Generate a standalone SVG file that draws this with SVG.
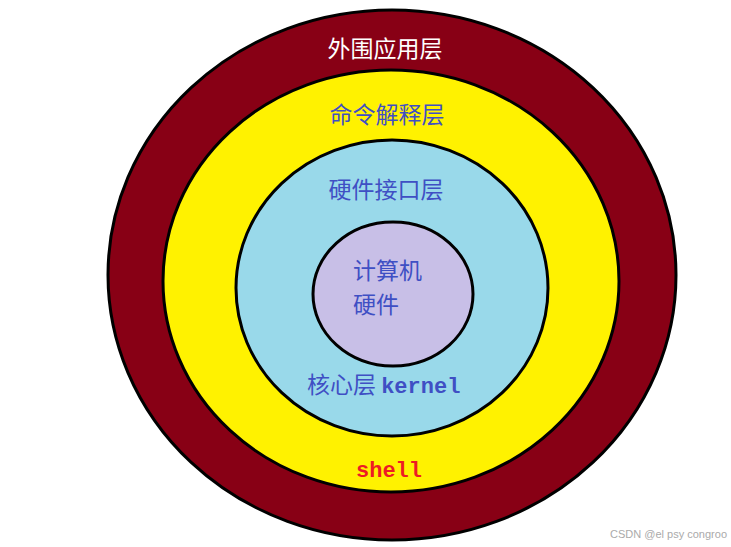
<svg xmlns="http://www.w3.org/2000/svg" width="731" height="547" viewBox="0 0 731 547">
<style>
.r{stroke:#000;stroke-width:3}
.t{font-family:"Noto Sans CJK SC","Liberation Serif",serif;font-size:23px;fill:#3f4fc4}
.m{font-family:"Liberation Mono","Noto Sans CJK SC",monospace;font-weight:bold}
</style>
<rect width="731" height="547" fill="#fff"/>
<g id="outer"><ellipse class="r" cx="392" cy="275" rx="284" ry="265" fill="#880015"/>
<text x="385" y="57" text-anchor="middle" class="t" style="fill:#fff">外围应用层</text></g>
<g id="shell"><ellipse class="r" cx="391" cy="281" rx="228" ry="211" fill="#fff200"/>
<text x="387" y="123" text-anchor="middle" class="t">命令解释层</text>
<text x="389" y="477" text-anchor="middle" class="m" font-size="22" fill="#ed1c24">shell</text></g>
<g id="kernel"><ellipse class="r" cx="392" cy="288" rx="156" ry="148" fill="#99d9ea"/>
<text x="386" y="198" text-anchor="middle" class="t">硬件接口层</text>
<text x="307" y="393" class="t">核心层 <tspan class="m" font-weight="normal" font-size="22">kernel</tspan></text></g>
<g id="hw"><ellipse class="r" cx="393" cy="294" rx="80" ry="72" fill="#c8bfe7"/>
<text x="353" y="279" class="t">计算机</text>
<text x="353" y="313" class="t">硬件</text></g>
<g id="connectors"/>
<text x="727" y="538" text-anchor="end" font-family="Liberation Sans,sans-serif" font-size="11" fill="#aaa">CSDN @el psy congroo</text>
</svg>
